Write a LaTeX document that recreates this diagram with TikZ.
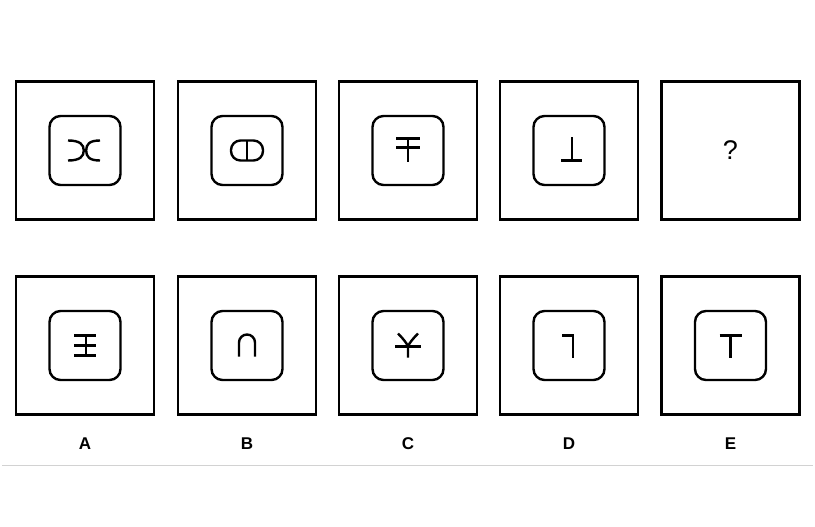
\documentclass[tikz,border=0pt]{standalone}
\usepackage{fontspec}
\setmainfont{Liberation Sans}
\begin{document}
\begin{tikzpicture}[x=1pt,y=-1pt,
  outerbox/.style={draw,line width=2.4pt,minimum width=138pt,minimum height=138pt,inner sep=0pt},
  innerbox/.style={draw,line width=2.4pt,rounded corners=11pt,minimum width=71pt,minimum height=69pt,inner sep=0pt},
  sym/.style={line width=2.4pt},
  lab/.style={font=\fontsize{17}{17}\selectfont\bfseries}]
\useasboundingbox (0,0) rectangle (815,527);
% outer boxes
\foreach \n/\x in {1/85,2/247,3/408,4/569,5/730.5}{
  \node[outerbox] (t\n) at (\x,150.5) {};
  \node[outerbox] (b\n) at (\x,345.5) {};
}
\foreach \n in {1,2,3,4}{
  \node[innerbox] (ti\n) at (t\n.center) {};
}
\foreach \n in {1,2,3,4,5}{
  \node[innerbox] (bi\n) at (b\n.center) {};
}
\node[font=\fontsize{27}{27}\selectfont] (q) at (t5.center) {?};
% top symbols
\begin{scope}[shift={(ti1.center)}]
  \draw[sym] (-17,-10) .. controls (-5,-10) and (-1.2,-6) .. (-1.2,0) .. controls (-1.2,6) and (-5,10) .. (-17,10);
  \draw[sym] (15,-10) .. controls (4,-10) and (1.2,-6) .. (1.2,0) .. controls (1.2,6) and (4,10) .. (15,10);
\end{scope}
\begin{scope}[shift={(ti2.center)}]
  \draw[sym,rounded corners=9.5pt] (-16,-10) rectangle (16,10);
  \draw[sym] (0,-10) -- (0,10);
\end{scope}
\begin{scope}[shift={(ti3.center)}]
  \draw[sym] (-12,-12) -- (12,-12);
  \draw[sym] (-12,-3) -- (12,-3);
  \draw[sym] (0,-12) -- (0,11);
\end{scope}
\begin{scope}[shift={(ti4.center)}]
  \draw[sym] (3,-13) -- (3,10);
  \draw[sym] (-8,10) -- (13,10);
\end{scope}
% bottom symbols
\begin{scope}[shift={(bi1.center)}]
  \draw[sym] (-11,-10) -- (11,-10);
  \draw[sym] (-11,0) -- (11,0);
  \draw[sym] (-11,10) -- (11,10);
  \draw[sym] (1,-10) -- (1,10);
\end{scope}
\begin{scope}[shift={(bi2.center)}]
  \draw[sym] (-8,11) -- (-8,-3) arc[start angle=180,end angle=360,radius=8] -- (8,11);
\end{scope}
\begin{scope}[shift={(bi3.center)}]
  \draw[sym] (-10,-12) .. controls (-5,-7) and (-1,-2) .. (0,1) -- (0,12);
  \draw[sym] (10,-12) .. controls (5,-7) and (1,-2) .. (0,1);
  \draw[sym] (-13,1) -- (13,1);
\end{scope}
\begin{scope}[shift={(bi4.center)}]
  \draw[sym] (-7,-10) -- (4,-10) -- (4,12);
\end{scope}
\begin{scope}[shift={(bi5.center)}]
  \draw[sym] (-11,-10) -- (11,-10);
  \draw[sym] (0,-10) -- (0,12);
\end{scope}
% labels
\foreach \n/\t in {1/A,2/B,3/C,4/D,5/E}{
  \node[lab,anchor=base] (l\n) at ([yshift=-34pt]b\n.south) {\t};
}
\draw[gray!35,line width=1pt] (2,465) coordinate (g1) -- (813,465) coordinate (g2);
\end{tikzpicture}
\end{document}
